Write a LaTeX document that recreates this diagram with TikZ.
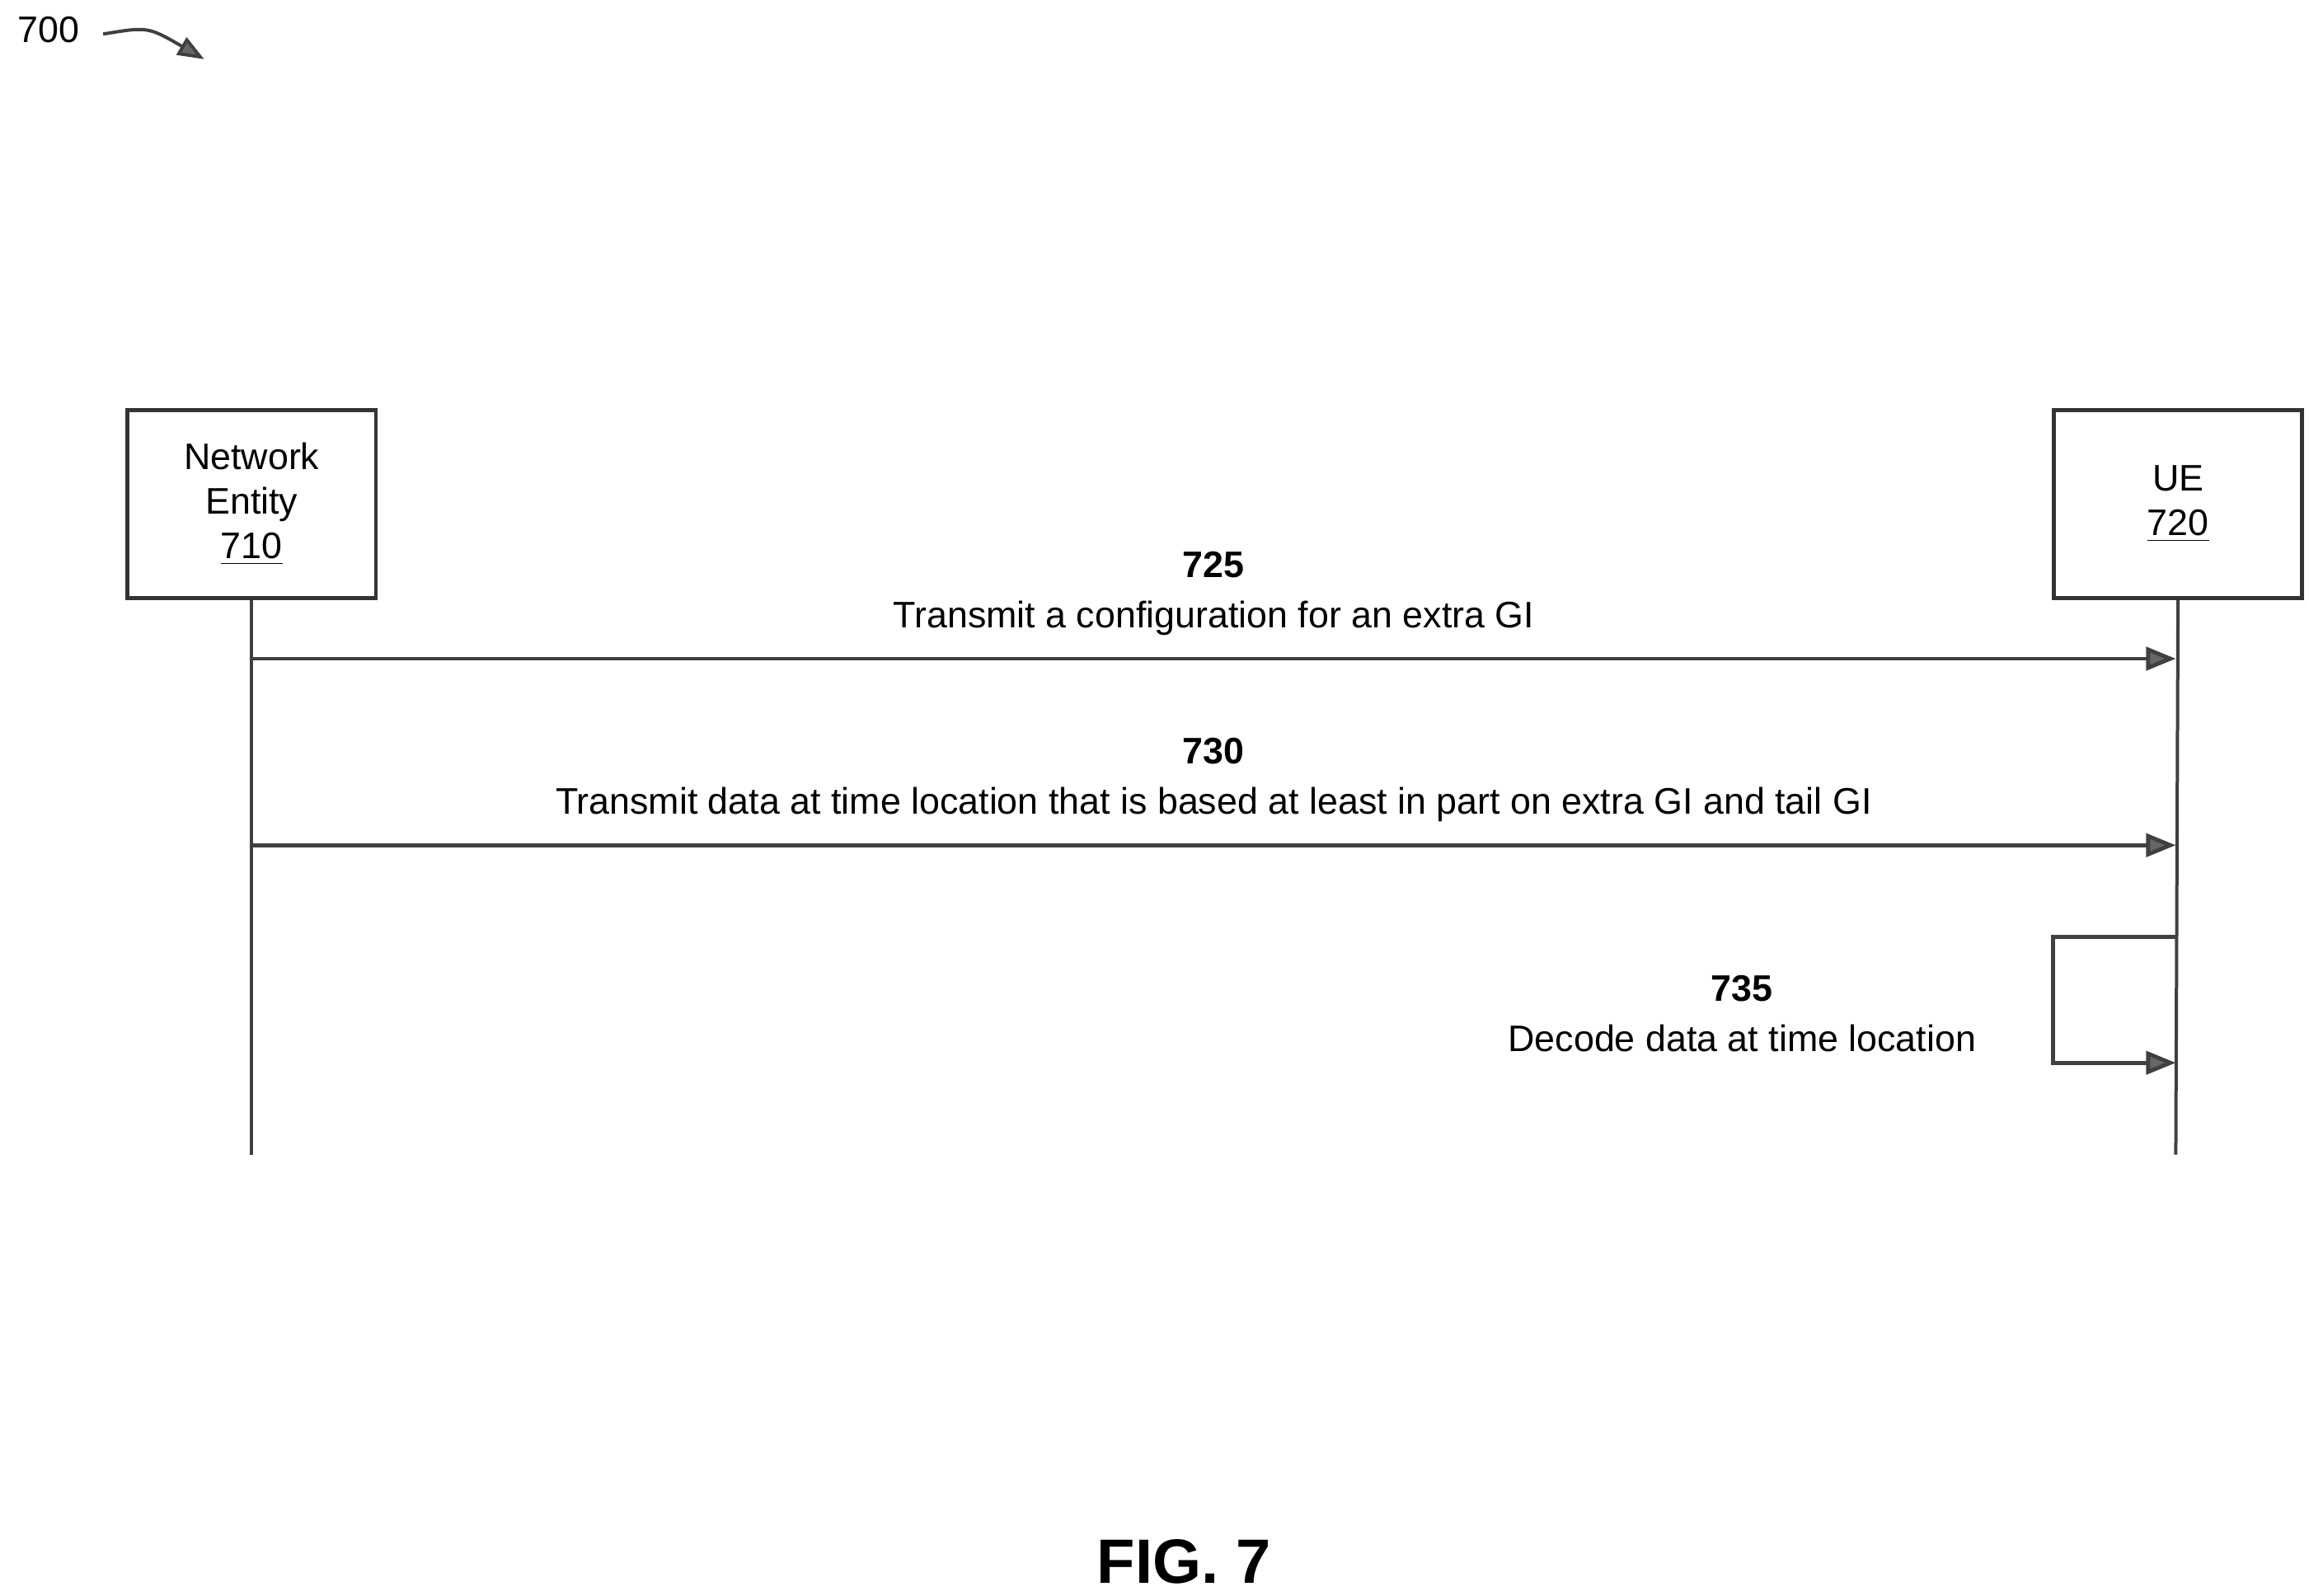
\documentclass[tikz,border=0pt]{standalone}
\usepackage{fontspec}
\setmainfont{Liberation Sans}
\usetikzlibrary{arrows.meta,positioning}
\tikzset{
  entitybox/.style={draw=black!80, line width=1.2pt, minimum width=75.4pt, minimum height=57pt, align=center, font=\fontsize{11.2}{13.5}\selectfont},
  lifeline/.style={draw=black!75, line width=1pt},
  msgarrow/.style={draw=black!75, line width=1.2pt, -{Triangle[length=9pt,width=7pt,fill=black!60]}},
  msglabel/.style={align=center, font=\fontsize{11.2}{15.3}\selectfont}
}
\begin{document}
\begin{tikzpicture}[x=0.449pt,y=-0.449pt]
\useasboundingbox (0,0) rectangle (1560,1078);
% Figure reference
\node (fignum) at (33,20) {\fontsize{11.2}{13}\selectfont 700};
\coordinate (figtip) at (138,40);
\draw[black!75, line width=1pt, -{Triangle[length=8pt,width=6pt,fill=black!60]}] (fignum.east) ++(8,3) .. controls (100,18) .. (figtip);
% Entities
\node[entitybox] (ne) at (170,340.5) {Network\\Entity\\\underline{710}};
\node[entitybox] (ue) at (1471.5,340.5) {UE\\\underline{720}};
% Lifelines
\coordinate (neend) at (170,780);
\coordinate (ueend) at (1470,780);
\draw[lifeline] (ne.south) -- (neend);
\draw[lifeline] (ue.south) -- (ueend);
% Messages
\coordinate (m1a) at (170,445);
\coordinate (m1b) at (1470,445);
\draw[msgarrow] (m1a) -- (m1b);
\node[msglabel] (l725) at (820,401) {\textbf{725}\\Transmit a configuration for an extra GI};
\coordinate (m2a) at (170,571);
\coordinate (m2b) at (1470,571);
\draw[msgarrow] (m2a) -- (m2b);
\node[msglabel] (l730) at (820,527) {\textbf{730}\\Transmit data at time location that is based at least in part on extra GI and tail GI};
% Self step
\coordinate (s1) at (1470,633);
\coordinate (s2) at (1470,718);
\draw[msgarrow] (s1) -| (1387,718) -- (s2);
\node[msglabel] (l735) at (1177,685) {\textbf{735}\\Decode data at time location};
% Caption
\node (caption) at (800,1055) {\fontsize{19}{22}\selectfont\textbf{FIG. 7}};
\end{tikzpicture}
\end{document}
